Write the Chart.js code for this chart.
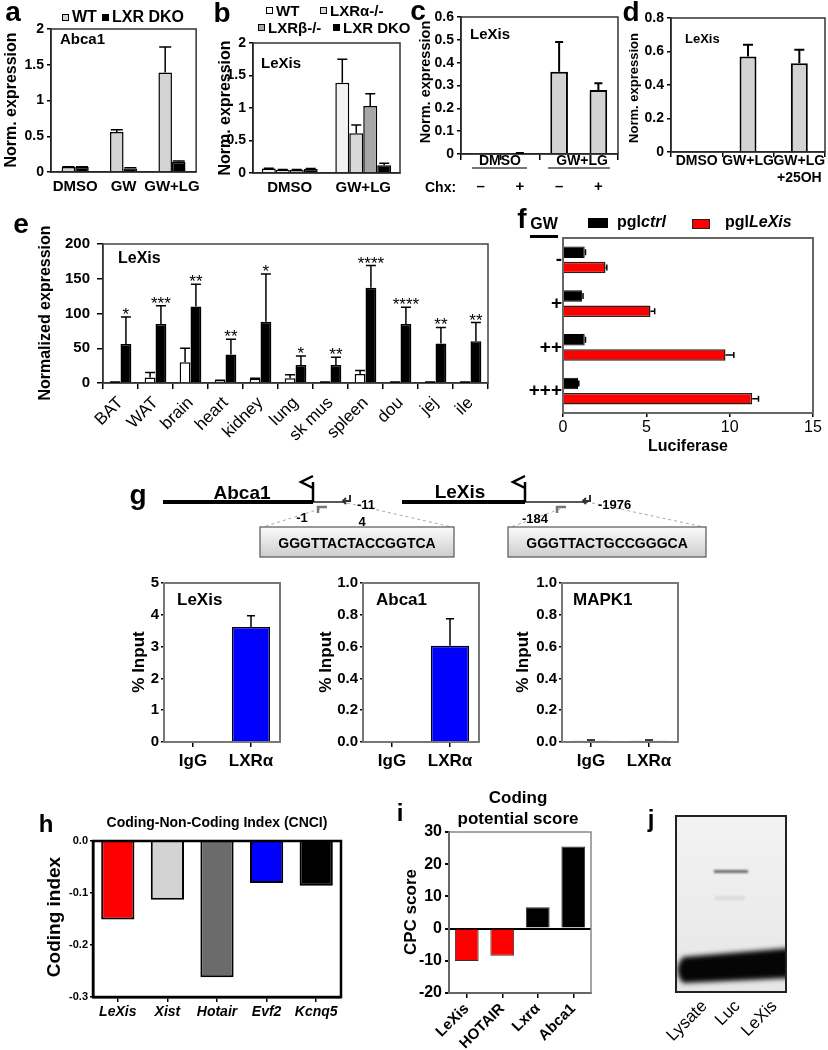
<!DOCTYPE html>
<html>
<head>
<meta charset="utf-8">
<script src="https://cdn.jsdelivr.net/npm/chart.js@4.4.0/dist/chart.umd.min.js"></script>
<style>
  body { margin: 0; background: #fff; }
  #page { position: relative; width: 828px; height: 1050px; overflow: hidden; background: #fff;
          font-family: 'Liberation Sans', Arial, sans-serif; color: #000; }
  .t { position: absolute; white-space: nowrap; font-weight: bold; line-height: 1; }
  .box { position: absolute; }
  canvas { position: absolute; }
</style>
</head>
<body>
<div id="page"></div>
<script>
// a: Abca1 in WT vs LXR DKO
const aCats = ['DMSO', 'GW', 'GW+LG'];
const aWT = [0.07, 0.56, 1.39];
const aWTErr = [0.005, 0.03, 0.36];
const aDKO = [0.07, 0.05, 0.14];
const aDKOErr = [0.005, 0.01, 0.015];

// b: LeXis in the four genotypes
const bCats = ['DMSO', 'GW+LG'];
const bWT = [0.07, 1.39];
const bWTErr = [0.005, 0.36];
const bAlpha = [0.05, 0.61];
const bAlphaErr = [0.005, 0.13];
const bBeta = [0.05, 1.03];
const bBetaErr = [0.005, 0.19];
const bDKO = [0.06, 0.12];
const bDKOErr = [0.01, 0.03];

// c: cycloheximide
const cCats = ['–', '+', '–', '+'];
const cVals = [0.001, 0.003, 0.36, 0.28];
const cErr = [0, 0.001, 0.13, 0.03];

// d
const dCats = ['DMSO', 'GW+LG', ['GW+LG', '+25OH']];
const dVals = [0.003, 0.57, 0.53];
const dErr = [0, 0.07, 0.08];

// e: tissues
const eCats = ['BAT', 'WAT', 'brain', 'heart', 'kidney', 'lung', 'sk mus', 'spleen', 'dou', 'jej', 'ile'];
const eOpen = [1, 8, 30, 3, 6, 7, 1, 13, 1, 1, 1];
const eOpenErr = [0.5, 7, 20, 1, 1, 5, 0.5, 5, 0.5, 0.5, 0.5];
const eFilled = [56, 85, 110, 41, 88, 26, 26, 137, 85, 57, 60];
const eFilledErr = [39, 26, 32, 22, 69, 13, 11, 32, 24, 23, 27];
const eStars = ['*', '***', '**', '**', '*', '*', '**', '****', '****', '**', '**'];

// f: luciferase
const fCats = ['-', '+', '++', '+++'];
const fCtrl = [1.3, 1.15, 1.3, 0.9];
const fCtrlErr = [0.05, 0.05, 0.05, 0.05];
const fLexis = [2.55, 5.25, 9.75, 11.35];
const fLexisErr = [0.08, 0.25, 0.5, 0.38];

// g: ChIP
const gCats = ['IgG', 'LXRα'];
const gLexis = [0, 3.62];
const gLexisErr = [0, 0.35];
const gAbca1 = [0.005, 0.605];
const gAbca1Err = [0, 0.17];
const gMapk1 = [0.008, 0.008];
const gMapk1Err = [0.004, 0.004];

// h: CNCI
const hCats = ['LeXis', 'Xist', 'Hotair', 'Evf2', 'Kcnq5'];
const hVals = [-0.151, -0.113, -0.262, -0.081, -0.086];

// i: CPC
const iCats = ['LeXis', 'HOTAIR', 'Lxrα', 'Abca1'];
const iVals = [-10.1, -8.4, 6.6, 25.5];

// j: gel lanes
const jLanes = ['Lysate', 'Luc', 'LeXis'];

const page = document.getElementById('page');
const F = "'Liberation Sans', Arial, sans-serif";

// box around the plot area
const frame = {
  id: 'frame',
  afterDatasetsDraw(chart, args, o) {
    if (!o.color) return;
    const { ctx, chartArea: a } = chart;
    ctx.save();
    ctx.strokeStyle = o.color;
    ctx.lineWidth = o.width || 1.5;
    ctx.strokeRect(a.left, a.top, a.right - a.left, a.bottom - a.top);
    ctx.restore();
  }
};

// one-sided error bars
const errBars = {
  id: 'errBars',
  afterDatasetsDraw(chart, args, o) {
    const ctx = chart.ctx;
    const horiz = chart.options.indexAxis === 'y';
    const vs = horiz ? chart.scales.x : chart.scales.y;
    const cap = o.cap || 5;
    chart.data.datasets.forEach((ds, di) => {
      if (!ds.errs) return;
      chart.getDatasetMeta(di).data.forEach((bar, i) => {
        const e = ds.errs[i];
        if (!e) return;
        const v = ds.data[i];
        const end = vs.getPixelForValue(v + (v < 0 ? -e : e));
        ctx.save();
        ctx.strokeStyle = ds.errColor || '#000';
        ctx.lineWidth = o.width || 1.5;
        ctx.beginPath();
        if (horiz) {
          ctx.moveTo(bar.x, bar.y); ctx.lineTo(end, bar.y);
          ctx.moveTo(end, bar.y - cap); ctx.lineTo(end, bar.y + cap);
        } else {
          ctx.moveTo(bar.x, bar.y); ctx.lineTo(bar.x, end);
          ctx.moveTo(bar.x - cap, end); ctx.lineTo(bar.x + cap, end);
        }
        ctx.stroke();
        ctx.restore();
      });
    });
  }
};

const stars = {
  id: 'stars',
  afterDatasetsDraw(chart) {
    const ds = chart.data.datasets[1];
    const y = chart.scales.y;
    const ctx = chart.ctx;
    ctx.save();
    ctx.font = '17px ' + F;
    ctx.textAlign = 'center';
    ctx.fillStyle = '#000';
    chart.getDatasetMeta(1).data.forEach((b, i) => {
      ctx.fillText(eStars[i], b.x, y.getPixelForValue(ds.data[i] + ds.errs[i]) + 3);
    });
    ctx.restore();
  }
};

// box = [left, top, right, bottom] of the plot area on the page
function mk(box, m, cfg) {
  const [L, T, R, B] = box;
  const c = document.createElement('canvas');
  c.width = R - L + m.yw + m.pr;
  c.height = B - T + m.pt + m.xh;
  c.style.left = (L - m.yw) + 'px';
  c.style.top = (T - m.pt) + 'px';
  page.appendChild(c);
  const o = cfg.options;
  o.responsive = false;
  o.animation = false;
  o.layout = { padding: { top: m.pt, right: m.pr, left: 0, bottom: 0 } };
  o.plugins = Object.assign({ legend: { display: false }, tooltip: { enabled: false } }, o.plugins || {});
  o.scales.x.afterFit = s => { s.height = m.xh; };
  o.scales.y.afterFit = s => { s.width = m.yw; };
  cfg.plugins = [frame, errBars].concat(cfg.plugins || []);
  return new Chart(c, cfg);
}

function valAx(min, max, step, size, o = {}) {
  const ax = {
    min, max,
    ticks: { stepSize: step, color: '#000', padding: o.pad ?? 3,
             font: { family: F, size, weight: o.weight || 'bold' } },
    grid: { drawOnChartArea: false, color: '#000', lineWidth: 1.5,
            tickLength: o.tl ?? 4, drawTicks: o.tl !== 0 },
    border: { color: o.bc || '#000', width: o.bw || 1.5 }
  };
  if (o.fmt) ax.ticks.callback = o.fmt;
  return ax;
}

function catAx(size, o = {}) {
  return {
    ticks: { color: '#000', padding: o.pad ?? 2, autoSkip: false,
             maxRotation: o.rot || 0, minRotation: o.rot || 0,
             font: { family: F, size, weight: o.weight || 'bold', style: o.style || 'normal' } },
    grid: { drawOnChartArea: false, offset: o.offset ?? true, color: '#000', lineWidth: 1.5,
            tickLength: o.tl ?? 5, drawTicks: o.tl !== 0 },
    border: { color: o.bc || '#000', width: o.bw || 1.5 }
  };
}

const plain = v => String(+v.toFixed(2));
const oneDec = v => v.toFixed(1);

function txt(s, x, y, o = {}) {
  const d = document.createElement('div');
  d.className = 't';
  d.innerHTML = s;
  d.style.fontSize = (o.size || 15) + 'px';
  if (o.normal) d.style.fontWeight = 'normal';
  if (o.italic) d.style.fontStyle = 'italic';
  d.style.left = x + 'px';
  d.style.top = y + 'px';
  if (o.corner) {
    // right end of the text sits at (x, y), text turned up by 45 degrees
    d.style.transformOrigin = '100% 50%';
    d.style.transform = 'translate(-100%,-50%) rotate(-45deg)';
  } else {
    const ax = o.align === 'left' ? '0' : o.align === 'right' ? '-100%' : '-50%';
    d.style.transform = `translate(${ax},-50%)` + (o.rot ? ` rotate(${o.rot}deg)` : '');
  }
  page.appendChild(d);
}

function sq(x, y, w, h, bg, border) {
  const d = document.createElement('div');
  d.className = 'box';
  Object.assign(d.style, { left: x + 'px', top: y + 'px', width: w + 'px', height: h + 'px',
    background: bg, boxSizing: 'border-box', border: border || 'none' });
  page.appendChild(d);
}

// ---------- a ----------
mk([51, 29, 199, 172], { yw: 45, xh: 30, pt: 14, pr: 8 }, {
  type: 'bar',
  data: { labels: aCats, datasets: [
    { data: aWT, errs: aWTErr, backgroundColor: '#d4d4d4', borderColor: '#000', borderWidth: 1.5 },
    { data: aDKO, errs: aDKOErr, backgroundColor: '#000', borderColor: '#000', borderWidth: 1.5 }
  ] },
  options: {
    datasets: { bar: { categoryPercentage: 0.56, barPercentage: 1 } },
    scales: { x: catAx(15, { tl: 0, pad: 6 }), y: valAx(0, 2, 0.5, 14, { fmt: plain }) },
    plugins: { frame: { color: '#333', width: 1.5 }, errBars: { cap: 6 } }
  }
});

// ---------- b ----------
mk([253, 43, 400, 173], { yw: 45, xh: 30, pt: 14, pr: 8 }, {
  type: 'bar',
  data: { labels: bCats, datasets: [
    { data: bWT, errs: bWTErr, backgroundColor: '#f2f2f2', borderColor: '#000', borderWidth: 1.5 },
    { data: bAlpha, errs: bAlphaErr, backgroundColor: '#d9d9d9', borderColor: '#000', borderWidth: 1.5 },
    { data: bBeta, errs: bBetaErr, backgroundColor: '#a6a6a6', borderColor: '#000', borderWidth: 1.5 },
    { data: bDKO, errs: bDKOErr, backgroundColor: '#000', borderColor: '#000', borderWidth: 1.5 }
  ] },
  options: {
    datasets: { bar: { categoryPercentage: 0.76, barPercentage: 1 } },
    scales: { x: catAx(15, { tl: 0, pad: 6 }), y: valAx(0, 2, 0.5, 14, { fmt: plain }) },
    plugins: { frame: { color: '#333', width: 1.5 }, errBars: { cap: 5 } }
  }
});

// ---------- c ----------
mk([461, 17, 618, 154], { yw: 38, xh: 46, pt: 14, pr: 6 }, {
  type: 'bar',
  data: { labels: cCats, datasets: [
    { data: cVals, errs: cErr, backgroundColor: '#d3d3d3', borderColor: '#000', borderWidth: 2 }
  ] },
  options: {
    datasets: { bar: { categoryPercentage: 1, barPercentage: 0.45 } },
    scales: { x: catAx(15, { tl: 6, pad: 18 }), y: valAx(0, 0.6, 0.1, 14, { fmt: plain }) },
    plugins: { frame: { color: '#333', width: 1.5 }, errBars: { cap: 4, width: 2 } }
  }
});

// ---------- d ----------
mk([671, 18, 825, 152], { yw: 38, xh: 40, pt: 14, pr: 6 }, {
  type: 'bar',
  data: { labels: dCats, datasets: [
    { data: dVals, errs: dErr, backgroundColor: '#d3d3d3', borderColor: '#000', borderWidth: 2 }
  ] },
  options: {
    datasets: { bar: { categoryPercentage: 1, barPercentage: 0.33 } },
    scales: { x: catAx(14, { tl: 5, pad: -4 }), y: valAx(0, 0.8, 0.2, 14, { fmt: plain }) },
    plugins: { frame: { color: '#333', width: 1.5 }, errBars: { cap: 5, width: 2 } }
  }
});

// ---------- e ----------
mk([103, 242, 488, 383], { yw: 60, xh: 70, pt: 14, pr: 6 }, {
  type: 'bar',
  data: { labels: eCats, datasets: [
    { data: eOpen, errs: eOpenErr, backgroundColor: '#fff', borderColor: '#000', borderWidth: 1.5 },
    { data: eFilled, errs: eFilledErr, backgroundColor: '#000', borderColor: '#000', borderWidth: 1.5 }
  ] },
  options: {
    datasets: { bar: { categoryPercentage: 0.62, barPercentage: 1 } },
    scales: { x: catAx(17, { tl: 6, pad: 4, rot: 45, weight: 'normal' }), y: valAx(0, 200, 50, 15, { tl: 6, pad: 7 }) },
    plugins: { frame: { color: '#444', width: 1.5 }, errBars: { cap: 5 } }
  },
  plugins: [stars]
});

// ---------- f ----------
mk([563, 238, 813, 413], { yw: 40, xh: 24, pt: 14, pr: 14 }, {
  type: 'bar',
  data: { labels: fCats, datasets: [
    { data: fCtrl, errs: fCtrlErr, backgroundColor: '#000', borderColor: '#000', borderWidth: 1 },
    { data: fLexis, errs: fLexisErr, backgroundColor: '#ff0000', borderColor: '#222', borderWidth: 1.5 }
  ] },
  options: {
    indexAxis: 'y',
    datasets: { bar: { categoryPercentage: 0.7, barPercentage: 0.75 } },
    scales: {
      x: valAx(0, 15, 5, 16, { tl: 4, pad: 1, weight: 'normal', bc: '#555', bw: 2 }),
      y: catAx(19, { tl: 0, pad: 1, bc: '#333', bw: 2 })
    },
    plugins: { frame: { color: '#666', width: 2 }, errBars: { cap: 3, width: 1.5 } }
  }
});

// ---------- g (three ChIP panels) ----------
function chip(box, vals, errs, max, step, fmt, igColor, lxColor) {
  mk(box, { yw: 36, xh: 32, pt: 14, pr: 6 }, {
    type: 'bar',
    data: { labels: gCats, datasets: [
      { data: vals, errs, backgroundColor: [igColor, lxColor], borderColor: '#000', borderWidth: 1.5 }
    ] },
    options: {
      datasets: { bar: { categoryPercentage: 1, barPercentage: 0.66 } },
      scales: {
        x: catAx(17, { tl: 5, pad: 4, offset: false }),
        y: valAx(0, max, step, 15, { tl: 3, pad: 2, fmt, bw: 2 })
      },
      plugins: { frame: { color: '#777', width: 2 }, errBars: { cap: 4 } }
    }
  });
}
chip([164, 583, 280, 742], gLexis, gLexisErr, 5, 1, plain, '#7a1818', '#0000ff');
chip([363, 583, 479, 742], gAbca1, gAbca1Err, 1, 0.2, oneDec, '#9a9a9a', '#0000ff');
chip([562, 583, 678, 742], gMapk1, gMapk1Err, 1, 0.2, oneDec, '#7a1818', '#1a1a7a');

// ---------- h ----------
mk([93, 841, 341, 997], { yw: 30, xh: 28, pt: 14, pr: 6 }, {
  type: 'bar',
  data: { labels: hCats, datasets: [
    { data: hVals, backgroundColor: ['#ff0000', '#d3d3d3', '#6b6b6b', '#0000ff', '#000000'],
      borderColor: '#000', borderWidth: 2 }
  ] },
  options: {
    datasets: { bar: { categoryPercentage: 1, barPercentage: 0.67 } },
    scales: {
      x: catAx(14, { tl: 5, pad: 2, offset: false, style: 'italic', bw: 2.5 }),
      y: valAx(-0.3, 0, 0.1, 11, { tl: 3, pad: 2, fmt: oneDec, bw: 2.5 })
    },
    plugins: { frame: { color: '#000', width: 2.5 } }
  }
});

// ---------- i ----------
const iY = valAx(-20, 30, 10, 16, { tl: 4, pad: 3, bw: 2 });
iY.grid.drawOnChartArea = true;
iY.grid.color = ctx => (ctx.tick && ctx.tick.value === 0 ? '#000' : 'rgba(0,0,0,0)');
iY.grid.tickColor = '#000';
iY.grid.lineWidth = 2;
mk([449, 832, 591, 993], { yw: 36, xh: 60, pt: 14, pr: 6 }, {
  type: 'bar',
  data: { labels: iCats, datasets: [
    { data: iVals, backgroundColor: ['#ff0000', '#ff0000', '#000', '#000'], borderColor: '#333', borderWidth: 1 }
  ] },
  options: {
    datasets: { bar: { categoryPercentage: 1, barPercentage: 0.67 } },
    scales: { x: catAx(15, { tl: 5, pad: 2, offset: false, rot: 45, bw: 2 }), y: iY },
    plugins: { frame: { color: '#888', width: 1.5 } }
  }
});

// ---------- j: gel picture ----------
(function drawGel() {
  const L = 675, T = 815, W = 112, H = 178;
  const c = document.createElement('canvas');
  c.width = W; c.height = H;
  c.style.left = L + 'px'; c.style.top = T + 'px';
  page.appendChild(c);
  const g = c.getContext('2d');
  const bg = g.createLinearGradient(0, 0, 0, H);
  bg.addColorStop(0, '#f3f3f3'); bg.addColorStop(0.6, '#ebebeb'); bg.addColorStop(1, '#e6e6e6');
  g.fillStyle = bg; g.fillRect(0, 0, W, H);
  g.filter = 'blur(1px)';
  g.fillStyle = 'rgba(85,85,85,0.85)'; g.fillRect(39, 55, 34, 3);
  g.fillStyle = 'rgba(150,150,150,0.2)'; g.fillRect(40, 81, 30, 4);
  g.filter = 'blur(2.5px)';
  g.fillStyle = '#050505';
  g.beginPath();
  g.moveTo(8, 142); g.lineTo(W + 4, 133); g.lineTo(W + 4, 163); g.lineTo(8, 168);
  g.quadraticCurveTo(-3, 155, 8, 142);
  g.fill();
  g.filter = 'none';
  g.strokeStyle = '#222'; g.lineWidth = 2; g.strokeRect(1, 1, W - 2, H - 2);
})();

// ---------- g schematic ----------
page.insertAdjacentHTML('beforeend', `
<svg width="828" height="1050" style="position:absolute;left:0;top:0" xmlns="http://www.w3.org/2000/svg">
  <defs><linearGradient id="bx" x1="0" y1="0" x2="0" y2="1">
    <stop offset="0" stop-color="#fbfbfb"/><stop offset="1" stop-color="#cdcdcd"/></linearGradient></defs>
  <g stroke="#aaa" stroke-width="1" stroke-dasharray="3,3" fill="none">
    <line x1="320" y1="509" x2="263" y2="527"/><line x1="347" y1="503" x2="452" y2="527"/>
    <line x1="560" y1="509" x2="511" y2="527"/><line x1="592" y1="503" x2="704" y2="527"/>
  </g>
  <line x1="163" y1="502" x2="313" y2="502" stroke="#000" stroke-width="4"/>
  <line x1="313" y1="502" x2="346" y2="502" stroke="#222" stroke-width="1.5"/>
  <path d="M313 502 V482 M313 476 L301 482 L313 488" stroke="#000" stroke-width="2.5" fill="none"/>
  <line x1="402" y1="502" x2="525" y2="502" stroke="#000" stroke-width="4"/>
  <line x1="525" y1="502" x2="588" y2="502" stroke="#222" stroke-width="1.5"/>
  <path d="M525 502 V482 M525 476 L513 482 L525 488" stroke="#000" stroke-width="2.5" fill="none"/>
  <path d="M350 495 V501 H343 M346 498 L343 501 L346 504" stroke="#333" stroke-width="2" fill="none"/>
  <path d="M590 495 V501 H583 M586 498 L583 501 L586 504" stroke="#333" stroke-width="2" fill="none"/>
  <path d="M318 513 V507 H327" stroke="#777" stroke-width="2.5" fill="none"/>
  <path d="M557 513 V507 H566" stroke="#777" stroke-width="2.5" fill="none"/>
  <rect x="260" y="527" width="194" height="30" fill="url(#bx)" stroke="#555" stroke-width="1.2"/>
  <rect x="508" y="527" width="198" height="30" fill="url(#bx)" stroke="#555" stroke-width="1.2"/>
</svg>`);

// ---------- text ----------
// panel letters
txt('a', 13, 12, { size: 28 }); txt('b', 222, 13, { size: 28 }); txt('c', 418, 11, { size: 28 });
txt('d', 631, 12, { size: 28 }); txt('e', 21, 224, { size: 28 }); txt('f', 522, 219, { size: 28 });
txt('g', 138, 495, { size: 28 }); txt('h', 46, 824, { size: 24 }); txt('i', 400, 813, { size: 24 });
txt('j', 651, 819, { size: 24 });

// a
sq(62, 14, 7, 7, '#d4d4d4', '1px solid #000'); txt('WT', 72, 17, { align: 'left', size: 16 });
sq(102, 14, 7, 7, '#000'); txt('LXR DKO', 112, 17, { align: 'left', size: 16 });
txt('Abca1', 60, 38, { align: 'left', size: 15 });
txt('Norm. expression', 11, 100, { size: 16, rot: -90 });

// b
sq(266, 7, 7, 7, '#fff', '1px solid #000'); txt('WT', 276, 10, { align: 'left', size: 15 });
sq(320, 7, 7, 7, '#d9d9d9', '1px solid #000'); txt('LXRα-/-', 330, 10, { align: 'left', size: 15 });
sq(258, 24, 7, 7, '#a6a6a6', '1px solid #000'); txt('LXRβ-/-', 268, 27, { align: 'left', size: 15 });
sq(333, 24, 7, 7, '#000'); txt('LXR DKO', 343, 27, { align: 'left', size: 15 });
txt('LeXis', 261, 62, { align: 'left', size: 15 });
txt('Norm. expression', 225, 108, { size: 16, rot: -90 });

// c
txt('LeXis', 470, 33, { align: 'left', size: 15 });
txt('Norm. expression', 425, 82, { size: 14.5, rot: -90 });
txt('DMSO', 500, 160, { size: 14 }); sq(472, 167, 55, 2, '#777');
txt('GW+LG', 582, 160, { size: 14 }); sq(548, 167, 62, 2, '#777');
txt('Chx:', 425, 187, { align: 'left', size: 14 });

// d
txt('LeXis', 685, 38, { align: 'left', size: 13 });
txt('Norm. expression', 633, 88, { size: 13, rot: -90 });

// e
txt('LeXis', 118, 258, { align: 'left', size: 16 });
txt('Normalized expression', 45, 313, { size: 16, rot: -90 });

// f
txt('GW', 544, 224, { size: 16 }); sq(530, 235, 28, 3, '#000');
sq(588, 218, 20, 10, '#000'); txt('pgl<i>ctrl</i>', 617, 222, { align: 'left', size: 16 });
sq(692, 219, 18, 10, '#ff0000', '1px solid #222'); txt('pgl<i>LeXis</i>', 725, 222, { align: 'left', size: 16 });
txt('Luciferase', 688, 446, { size: 16 });

// g schematic labels
txt('Abca1', 242, 492, { size: 19 }); txt('LeXis', 460, 491, { size: 19 });
txt('-11', 357, 504, { align: 'left', size: 13 }); txt('-1', 302, 517, { size: 13 });
txt('4', 362, 521, { size: 13 });
txt('-1976', 598, 504, { align: 'left', size: 13 }); txt('-184', 535, 518, { size: 13 });
txt('GGGTTACTACCGGTCA', 357, 543, { size: 14 });
txt('GGGTTACTGCCGGGCA', 607, 543, { size: 14 });

// g charts
txt('% Input', 138, 662, { size: 17, rot: -90 });
txt('% Input', 325, 662, { size: 17, rot: -90 });
txt('% Input', 522, 662, { size: 17, rot: -90 });
txt('LeXis', 177, 599, { align: 'left', size: 17 });
txt('Abca1', 376, 599, { align: 'left', size: 17 });
txt('MAPK1', 573, 599, { align: 'left', size: 17 });

// h
txt('Coding-Non-Coding Index (CNCI)', 217, 822, { size: 14 });
txt('Coding index', 53, 917, { size: 19, rot: -90 });

// i
txt('Coding', 518, 797, { size: 17 });
txt('potential score', 518, 818, { size: 17 });
txt('CPC score', 410, 912, { size: 17, rot: -90 });

// j lane labels
[704, 737, 774].forEach((x, k) => txt(jLanes[k], x, 1003, { size: 17, normal: true, corner: true }));
</script>
</body>
</html>
